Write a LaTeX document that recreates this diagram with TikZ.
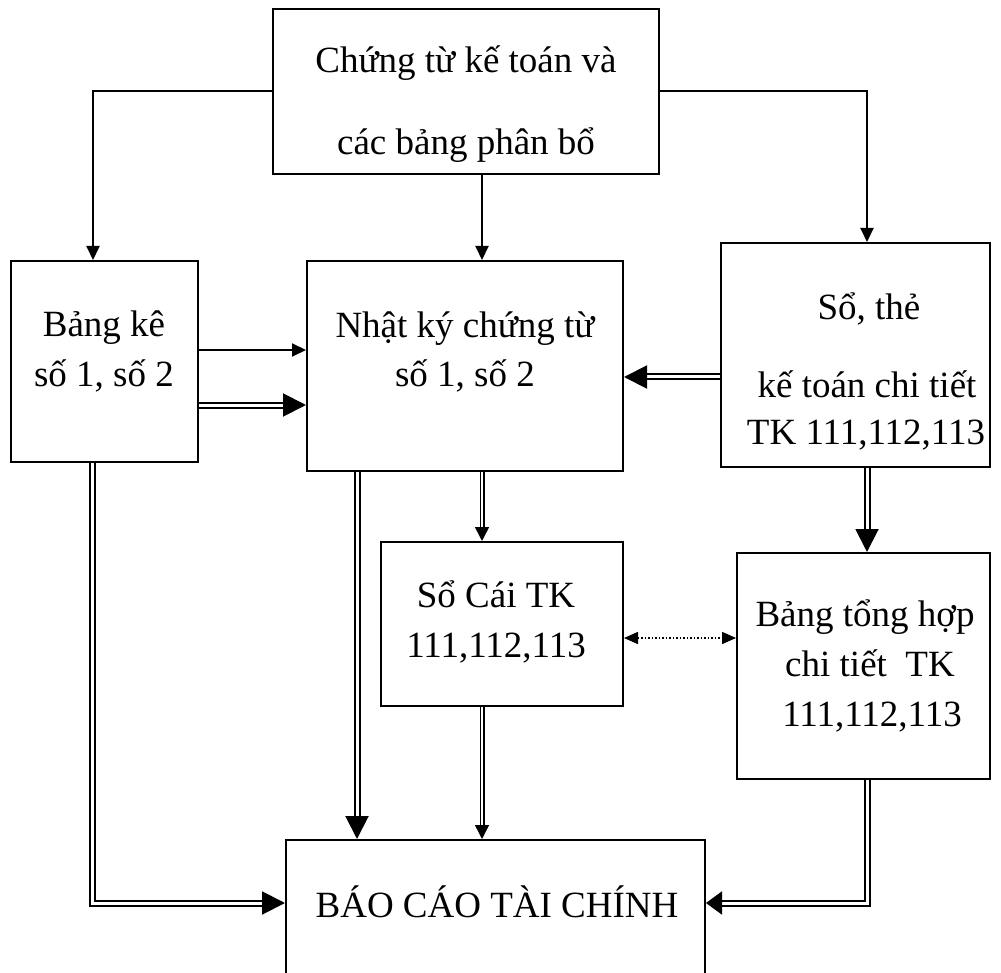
\documentclass[tikz,border=0pt]{standalone}
\usepackage{fontspec}
\setmainfont{Liberation Serif}
\usetikzlibrary{arrows.meta}
\begin{document}
\begin{tikzpicture}[x=1pt,y=-1pt,
  box/.style={draw, line width=2pt, inner sep=0pt, rectangle},
  txt/.style={anchor=base, inner sep=0pt, font=\fontsize{37}{44}\selectfont},
  arr/.style={line width=2pt, -{Triangle[length=14pt,width=13pt]}},
  dbl/.style={double, double distance=3pt, line width=2pt, -{Triangle[length=23pt,width=23pt]}},
  dblthin/.style={double, double distance=2pt, line width=1.5pt, -{Triangle[length=14pt,width=14pt]}},
  dblshort/.style={double, double distance=3pt, line width=2pt, -{Triangle[length=16pt,width=23pt]}},
  dotarr/.style={dotted, line width=1.5pt, {Triangle[length=14pt,width=12pt]}-{Triangle[length=14pt,width=12pt]}},
]
\useasboundingbox (0,0) rectangle (1001,973);
\clip (0,0) rectangle (1001,973);

% boxes
\node[box, minimum width=386pt, minimum height=165pt] (top) at (466,91.5) {};
\node[box, minimum width=187pt, minimum height=201pt] (bk) at (104.5,361.5) {};
\node[box, minimum width=316pt, minimum height=210pt] (nk) at (465,366) {};
\node[box, minimum width=269pt, minimum height=224pt] (st) at (855.5,355) {};
\node[box, minimum width=242pt, minimum height=164pt] (sc) at (502,624) {};
\node[box, minimum width=253pt, minimum height=226pt] (bth) at (863.5,666) {};
\node[box, minimum width=419pt, minimum height=160pt] (bc) at (495.5,920) {};

% texts
\node[txt] (t1a) at (466,73) {Chứng từ kế toán và};
\node[txt] (t1b) at (466,155) {các bảng phân bổ};
\node[txt] (bka) at (104,337) {Bảng kê};
\node[txt] (bkb) at (104,387) {số 1, số 2};
\node[txt] (nka) at (465,338) {Nhật ký chứng từ};
\node[txt] (nkb) at (465,387) {số 1, số 2};
\node[txt] (sta) at (869,320) {Sổ, thẻ};
\node[txt] (stb) at (867,397) {kế toán chi tiết};
\node[txt] (stc) at (866,444) {TK 111,112,113};
\node[txt] (sca) at (496,607) {Sổ Cái TK};
\node[txt] (scb) at (496,657) {111,112,113};
\node[txt] (btha) at (865,626) {Bảng tổng hợp};
\node[txt] (bthb) at (870,676) {chi tiết\ \ TK};
\node[txt] (bthc) at (872,726) {111,112,113};
\node[txt] (bct) at (497,917) {BÁO CÁO TÀI CHÍNH};

% connectors
\draw[arr] (top.west) -| ([xshift=-11.5pt]bk.north);
\draw[arr] (top.east) -| ([xshift=11.5pt]st.north);
\draw[arr] ([xshift=16pt]top.south) -- ([xshift=16pt]top.south |- nk.north);
\draw[arr] ([yshift=11.5pt]bk.east) -- ([yshift=11.5pt]bk.east -| nk.west);
\draw[dbl] ([yshift=-43.5pt]bk.east) -- ([yshift=-43.5pt]bk.east -| nk.west);
\draw[dbl] ([yshift=-22pt]st.west) -- ([yshift=-22pt]st.west -| nk.east);
\draw[dbl] ([xshift=-12.5pt]bk.south) |- ([yshift=17pt]bc.west);
\draw[dbl] ([xshift=-108pt]nk.south) -- ([xshift=-108pt]nk.south |- bc.north);
\draw[dblthin] ([xshift=17pt]nk.south) -- ([xshift=17pt]nk.south |- sc.north);
\draw[dblthin] ([xshift=-20pt]sc.south) -- ([xshift=-20pt]sc.south |- bc.north);
\draw[dbl] ([xshift=11.5pt]st.south) -- ([xshift=11.5pt]st.south |- bth.north);
\draw[dblshort] ([xshift=3.5pt]bth.south) |- ([yshift=17pt]bc.east);
\draw[dotarr] ([yshift=-14pt]sc.east) -- ([yshift=-14pt]sc.east -| bth.west);
\end{tikzpicture}
\end{document}
